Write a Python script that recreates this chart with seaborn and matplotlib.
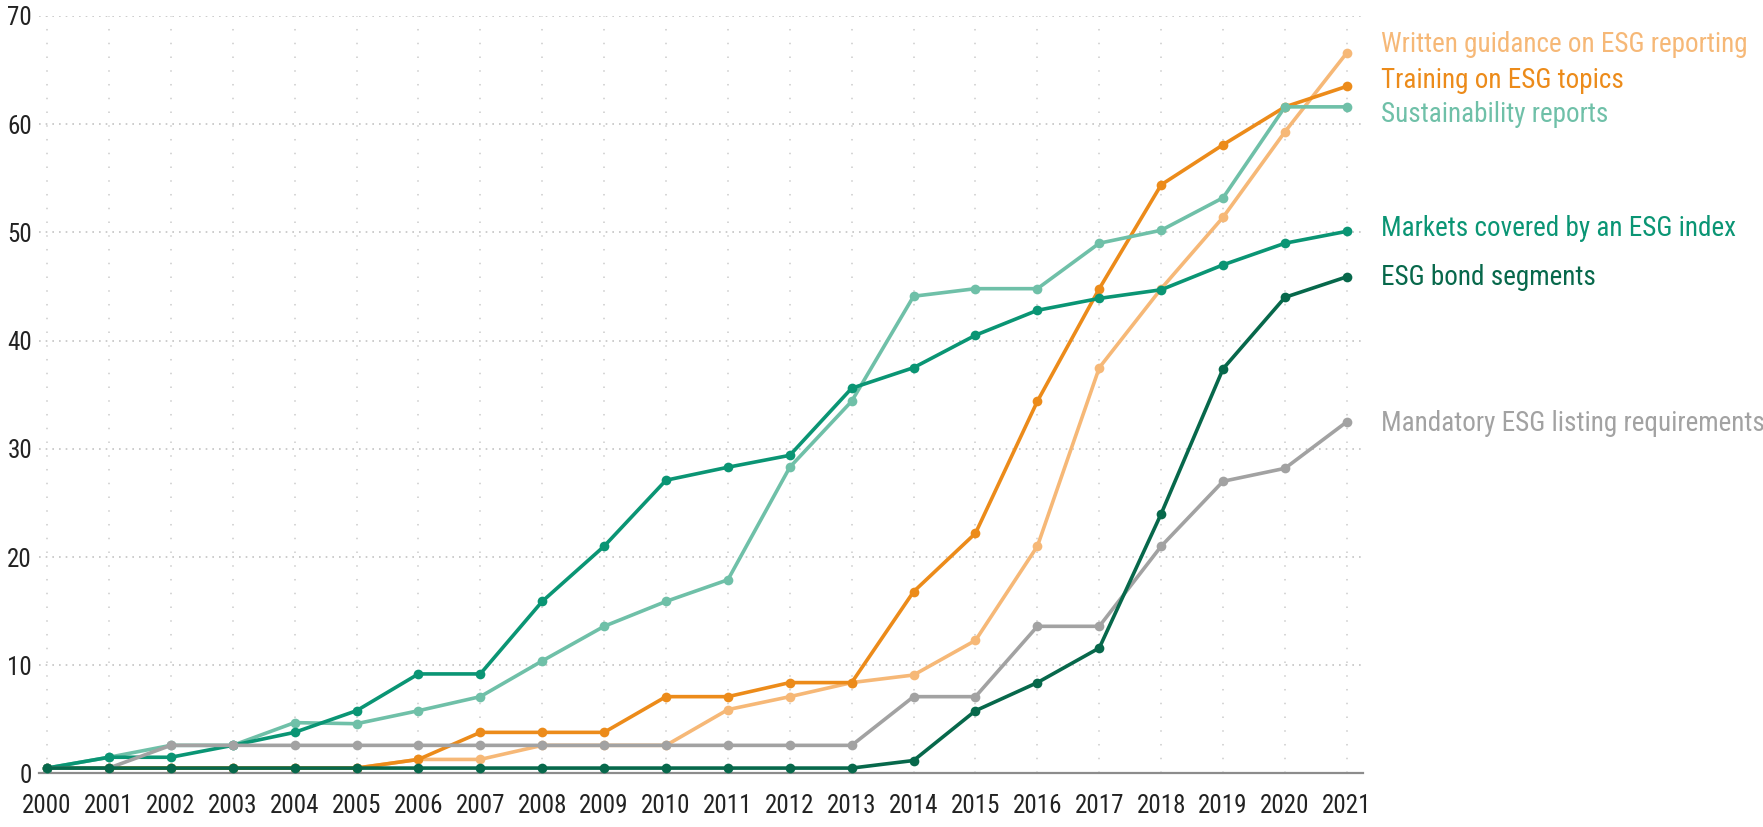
import matplotlib
matplotlib.use("Agg")
import matplotlib.pyplot as plt
from matplotlib import font_manager
import seaborn as sns
import pandas as pd

# --- data (% of markets) ---
years = list(range(2000, 2022))

written_guidance = [0.5, 0.5, 0.5, 0.5, 0.5, 0.5, 1.3, 1.3, 2.6, 2.6, 2.6, 5.9,
                    7.1, 8.4, 9.1, 12.3, 21.0, 37.5, 44.8, 51.4, 59.3, 66.6]
training = [0.5, 0.5, 0.5, 0.5, 0.5, 0.5, 1.3, 3.8, 3.8, 3.8, 7.1, 7.1,
            8.4, 8.4, 16.8, 22.2, 34.4, 44.8, 54.4, 58.1, 61.6, 63.5]
sustainability = [0.5, 1.5, 2.6, 2.6, 4.7, 4.6, 5.8, 7.1, 10.4, 13.6, 15.9, 17.9,
                  28.3, 34.4, 44.1, 44.8, 44.8, 49.0, 50.2, 53.2, 61.6, 61.6]
markets = [0.5, 1.5, 1.5, 2.6, 3.8, 5.8, 9.2, 9.2, 15.9, 21.0, 27.1, 28.3,
           29.4, 35.6, 37.5, 40.5, 42.8, 43.9, 44.7, 47.0, 49.0, 50.1]
bond = [0.5, 0.5, 0.5, 0.5, 0.5, 0.5, 0.5, 0.5, 0.5, 0.5, 0.5, 0.5,
        0.5, 0.5, 1.2, 5.8, 8.4, 11.6, 24.0, 37.4, 44.0, 45.9]
mandatory = [0.5, 0.5, 2.6, 2.6, 2.6, 2.6, 2.6, 2.6, 2.6, 2.6, 2.6, 2.6,
             2.6, 2.6, 7.1, 7.1, 13.6, 13.6, 21.0, 27.0, 28.2, 32.5]

labels = ["Written guidance on ESG reporting", "Training on ESG topics",
          "Sustainability reports", "Markets covered by an ESG index",
          "ESG bond segments", "Mandatory ESG listing requirements"]
series = [written_guidance, training, sustainability, markets, bond, mandatory]
colors = ["#F6B877", "#EC8B1A", "#6FC0A8", "#0A9574", "#07684B", "#A2A2A2"]
# drawing order (bottom -> top)
z_order = [1, 2, 3, 4, 6, 5]
# small vertical nudges so end labels do not collide
label_nudge = [0.8, 0.5, -0.7, 0.3, -0.1, -0.2]

sns.set_style("white")

installed = {f.name for f in font_manager.fontManager.ttflist}
narrow = "Liberation Sans"
for cand in ["Roboto Condensed", "Liberation Sans Narrow", "DejaVu Sans Condensed"]:
    if cand in installed:
        narrow = cand
        break
plt.rcParams["font.family"] = [narrow, "DejaVu Sans"]

fig = plt.figure(figsize=(17.63, 8.27), dpi=100)
ax = fig.add_axes([0.0221, 0.0647, 0.751, 0.916])

for name, vals, col, z in zip(labels, series, colors, z_order):
    df = pd.DataFrame({"year": years, "value": vals})
    sns.lineplot(data=df, x="year", y="value", color=col, lw=2.6,
                 marker="o", markersize=7, markeredgewidth=0,
                 zorder=z, ax=ax)

for name, vals, col, dy in zip(labels, series, colors, label_nudge):
    ax.text(2021.55, vals[-1] + dy, name, color=col, fontsize=19.5,
            va="center", ha="left", clip_on=False)

ax.set_xlim(1999.87, 2021.26)
ax.set_ylim(0, 70)
ax.set_xticks(years)
ax.set_yticks(range(0, 71, 10))
ax.set_xlabel("")
ax.set_ylabel("")
ax.tick_params(axis="both", length=0, labelsize=18, colors="#222222")
ax.tick_params(axis="x", pad=15)
ax.tick_params(axis="y", pad=5)

ax.xaxis.grid(True, linestyle=(0, (1, 8)), color="#cccccc", lw=1.1)
ax.yaxis.grid(True, linestyle=(0, (1, 3)), color="#c4c4c4", lw=1.2)
ax.set_axisbelow(True)

for s in ["top", "right", "left"]:
    ax.spines[s].set_visible(False)
ax.spines["bottom"].set_color("#8c8c8c")
ax.spines["bottom"].set_linewidth(1.6)

fig.savefig("out.png", dpi=100, facecolor="white")
